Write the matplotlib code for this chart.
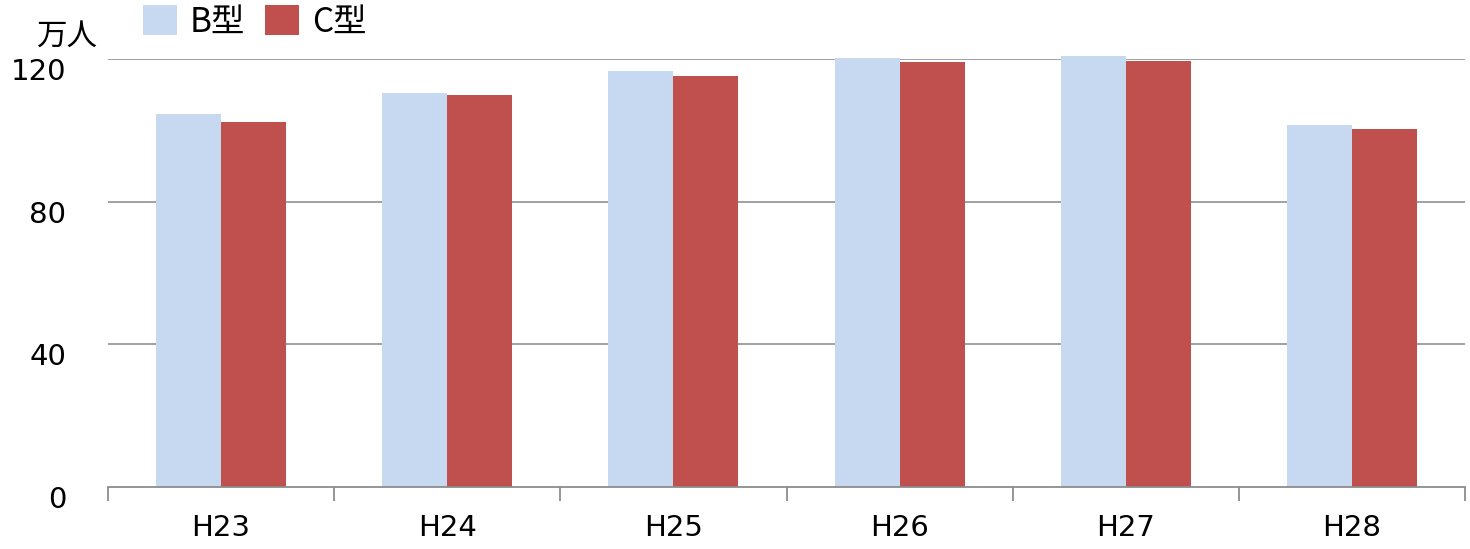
import numpy as np
import matplotlib
matplotlib.use("Agg")
import matplotlib.pyplot as plt
import matplotlib.transforms as mtransforms

years = ["H23", "H24", "H25", "H26", "H27", "H28"]
b_type = [104.5, 110.6, 116.7, 120.4, 120.8, 101.5]
c_type = [102.2, 109.8, 115.2, 119.2, 119.5, 100.3]

plt.rcParams['font.family'] = ['DejaVu Sans', 'Noto Sans CJK JP']
jp = ['Noto Sans CJK JP', 'DejaVu Sans']

fig = plt.figure(figsize=(14.7, 5.49), dpi=100)
ax = fig.add_axes([0.0735, 0.1138, 0.9231, 0.7787])

x = np.arange(len(years))
w = 0.2875
ax.bar(x - w / 2, b_type, w, color="#C6D9F1", label="B型", zorder=2, clip_on=False)
ax.bar(x + w / 2, c_type, w, color="#C0504D", label="C型", zorder=2, clip_on=False)

ax.set_xlim(-0.5, len(years) - 0.5)
ax.set_ylim(0, 120)
ax.set_yticks([0, 40, 80, 120])
ax.tick_params(axis="y", length=0, pad=30, labelsize=21)
shift = mtransforms.ScaledTranslation(0, -10 / 100, fig.dpi_scale_trans)
for lab in ax.get_yticklabels():
    lab.set_transform(lab.get_transform() + shift)
for yv in [40, 80, 120]:
    ax.axhline(yv, color="#9a9a9a", lw=1.3, zorder=1)

ax.set_xticks(np.arange(len(years) + 1) - 0.5)
ax.set_xticklabels([])
ax.tick_params(axis="x", which="major", length=10, width=1.3, color="#8c8c8c")
ax.set_xticks(x, minor=True)
ax.set_xticklabels(years, minor=True, fontsize=21)
ax.tick_params(axis="x", which="minor", length=0, pad=20)

for s in ["top", "right", "left"]:
    ax.spines[s].set_visible(False)
ax.spines["bottom"].set_color("#8c8c8c")
ax.spines["bottom"].set_linewidth(1.3)

fig.text(0.025, 0.905, "万人", fontsize=22, family=jp, ha="left", va="bottom")
leg = ax.legend(loc="lower left", bbox_to_anchor=(0.026, 1.045), ncol=2, frameon=False,
                prop={"family": jp, "size": 24}, handlelength=1.0, handleheight=1.0,
                handletextpad=0.4, columnspacing=0.6, borderaxespad=0.0, borderpad=0.0)

fig.savefig("out.png", dpi=100)
